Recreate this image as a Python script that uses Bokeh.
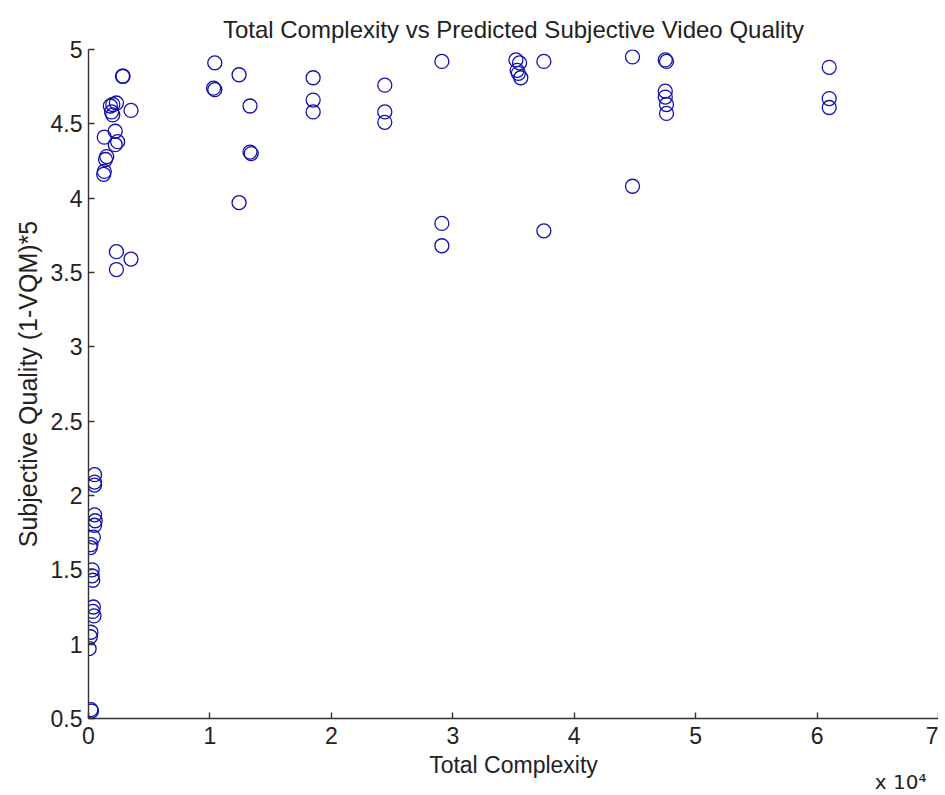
from bokeh.plotting import figure
from bokeh.models import Range1d, FixedTicker, Title
from bokeh.embed import file_html
from bokeh.resources import INLINE

# Total complexity (raw units) and predicted subjective quality
complexity = [
    61000, 61000, 61000,
    47500, 47600, 47500, 47500, 47600, 47600,
    44800, 44800,
    37500, 37500,
    35200, 35500, 35300, 35400, 35600,
    29100, 29100, 29100,
    24400, 24400, 24400,
    18500, 18500, 18500,
    13300, 13300, 13400,
    12400, 12400,
    10400, 10300, 10400,
    2800, 2850, 2000, 2300, 1800, 1900, 2000, 3500, 2200, 1300, 2400, 2200,
    1500, 1400, 1300, 1250, 2300, 3500, 2300,
    500, 500, 500, 500, 550, 500, 400, 200, 150, 300, 300, 350, 400, 350, 450,
    200, 150, 50, 200, 250,
]
quality = [
    4.88, 4.67, 4.61,
    4.93, 4.92, 4.72, 4.68, 4.63, 4.57,
    4.95, 4.08,
    4.92, 3.78,
    4.93, 4.91, 4.86, 4.84, 4.81,
    4.92, 3.83, 3.68,
    4.76, 4.58, 4.51,
    4.81, 4.66, 4.58,
    4.62, 4.31, 4.30,
    4.83, 3.97,
    4.91, 4.74, 4.73,
    4.82, 4.82, 4.63, 4.64, 4.62, 4.58, 4.56, 4.59, 4.45, 4.41, 4.38, 4.36,
    4.28, 4.26, 4.18, 4.16, 3.64, 3.59, 3.52,
    2.14, 2.09, 2.07, 1.87, 1.83, 1.80, 1.72, 1.67, 1.65, 1.50, 1.46, 1.43, 1.25, 1.22, 1.19,
    1.08, 1.05, 0.97, 0.56, 0.55,
]

x_ticks = [0, 10000, 20000, 30000, 40000, 50000, 60000, 70000]
x_tick_labels = ["0", "1", "2", "3", "4", "5", "6", "7"]
y_ticks = [0.5, 1, 1.5, 2, 2.5, 3, 3.5, 4, 4.5, 5]
y_tick_labels = ["0.5", "1", "1.5", "2", "2.5", "3", "3.5", "4", "4.5", "5"]
x_scale_note = "x 10\u2074"

FONT = "Liberation Sans"
INK = "#222222"

p = figure(width=938, height=795, output_backend="svg", toolbar_location=None,
           x_range=Range1d(0, 70000), y_range=Range1d(0.5, 5),
           title="Total Complexity vs Predicted Subjective Video Quality",
           min_border_left=88, min_border_right=0, min_border_top=49, min_border_bottom=77)

p.title.align = "center"
p.title.text_font = FONT
p.title.text_font_size = "24px"
p.title.text_font_style = "normal"
p.title.text_color = INK
p.title.standoff = 14

p.outline_line_color = None
p.xgrid.grid_line_color = None
p.ygrid.grid_line_color = None

p.xaxis.ticker = FixedTicker(ticks=x_ticks)
p.xaxis.major_label_overrides = dict(zip(x_ticks, x_tick_labels))
p.yaxis.ticker = FixedTicker(ticks=y_ticks)
p.yaxis.major_label_overrides = dict(zip(y_ticks, y_tick_labels))

for ax in (p.xaxis, p.yaxis):
    ax.axis_line_color = "#333333"
    ax.axis_line_width = 1.4
    ax.major_tick_line_color = "#333333"
    ax.major_tick_line_width = 1.4
    ax.major_tick_in = 6
    ax.major_tick_out = 0
    ax.minor_tick_line_color = None
    ax.major_label_text_font = FONT
    ax.major_label_text_font_size = "23px"
    ax.major_label_text_color = INK
    ax.axis_label_text_font = FONT
    ax.axis_label_text_font_style = "normal"
    ax.axis_label_text_color = INK

p.xaxis.axis_label = "Total Complexity"
p.yaxis.axis_label = "Subjective Quality (1-VQM)*5"
p.xaxis.axis_label_text_font_size = "23px"
p.yaxis.axis_label_text_font_size = "25px"
p.xaxis.major_label_standoff = 8
p.yaxis.major_label_standoff = 6
p.xaxis.axis_label_standoff = 5
p.yaxis.axis_label_standoff = 6

p.scatter(complexity, quality, marker="circle", size=14, fill_color=None,
          line_color="#1010b0", line_width=1.3)

p.add_layout(Title(text=x_scale_note, align="right", offset=12, standoff=-26,
                   text_font="DejaVu Sans", text_font_size="20px", text_font_style="normal",
                   text_color=INK), "below")

open("out.html", "w").write(file_html(p, INLINE))
